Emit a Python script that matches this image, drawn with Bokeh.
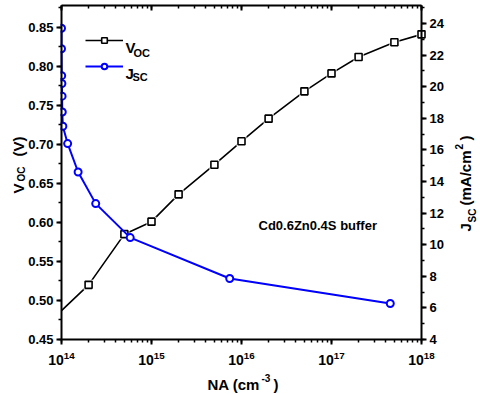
import math
from bokeh.plotting import figure
from bokeh.models import (Range1d, LinearAxis, LogAxis, LogTicker, SingleIntervalTicker,
                          NumeralTickFormatter, Label, Legend, LegendItem, ColumnDataSource,
                          BoxAnnotation)
from bokeh.embed import file_html
from bokeh.resources import INLINE

# ---- data ----
na_voc = [1e14, 2e14, 5e14, 1e15, 2e15, 5e15, 1e16, 2e16, 5e16, 1e17, 2e17, 5e17, 1e18]
voc = [0.487, 0.520, 0.585, 0.601, 0.636, 0.674, 0.704, 0.733, 0.768, 0.791, 0.812, 0.831, 0.841]

na_jsc = [1.0e14, 1.0e14, 1.005e14, 1.01e14, 1.015e14, 1.02e14, 1.035e14,
          1.17e14, 1.53e14, 2.4e14, 5.8e14, 7.4e15, 4.5e17]
jsc = [23.7, 22.4, 20.7, 20.2, 19.4, 18.4, 17.5, 16.4, 14.6, 12.6, 10.45, 7.86, 6.28]

left_range = (0.45, 0.878)
right_range = (4, 25.14)
x_range = (1e14, 1e18)

FONT = "Liberation Sans"
BLUE = "#0000FF"

# ---- layout: the axes box inside the canvas (pixels) ----
W, H = 480, 394
FL, FR, FT, FB = 61, 421, 5, 339

lx0, lx1 = math.log10(x_range[0]), math.log10(x_range[1])
dec = (FR - FL) / (lx1 - lx0)
x_full = (10 ** (lx0 - FL / dec), 10 ** (lx1 + (W - FR) / dec))


def extend(lo, hi):
    k = (FB - FT) / (hi - lo)
    return lo - (H - FB) / k, hi + FT / k


src_v = ColumnDataSource(dict(x=na_voc, y=voc))
src_vm = ColumnDataSource(dict(x=na_voc[1:], y=voc[1:]))
src_j = ColumnDataSource(dict(x=na_jsc, y=jsc))

p = figure(width=W, height=H, x_axis_type="log",
           x_range=Range1d(*x_full), y_range=Range1d(*extend(*left_range)),
           output_backend="svg", toolbar_location=None,
           min_border_left=0, min_border_right=0, min_border_top=0, min_border_bottom=0)
p.extra_y_ranges = {"j": Range1d(*extend(*right_range))}
p.grid.visible = False
p.outline_line_color = None
p.background_fill_color = "white"
p.border_fill_color = "white"


def style_axis(ax, tick_in=0, tick_out=5, minor_in=0, minor_out=3, labels=True):
    ax.axis_line_width = 2
    ax.axis_line_color = "black"
    ax.major_tick_line_width = 2
    ax.minor_tick_line_width = 1.5
    ax.major_tick_in = tick_in
    ax.major_tick_out = tick_out
    ax.minor_tick_in = minor_in
    ax.minor_tick_out = minor_out
    ax.major_label_text_font = FONT
    ax.major_label_text_font_style = "bold"
    ax.major_label_text_color = "black" if labels else None
    ax.major_label_text_font_size = "13px" if labels else "1px"
    ax.major_label_standoff = 3 if labels else 0


la = p.yaxis[0]
la.ticker = SingleIntervalTicker(interval=0.05, num_minor_ticks=2)
la.formatter = NumeralTickFormatter(format="0.00")
la.fixed_location = x_range[0]
la.bounds = left_range
style_axis(la)

ba = p.xaxis[0]
ba.ticker = LogTicker(desired_num_ticks=5, num_minor_ticks=10)
ba.fixed_location = left_range[0]
ba.bounds = x_range
style_axis(ba)
ba.major_label_text_font_size = "14px"
ba.major_label_standoff = 6

ra = LinearAxis(y_range_name="j", ticker=SingleIntervalTicker(interval=2, num_minor_ticks=2),
                fixed_location=x_range[1], bounds=right_range)
style_axis(ra)
p.add_layout(ra, "right")

ta = LogAxis(ticker=LogTicker(desired_num_ticks=5, num_minor_ticks=10),
             fixed_location=left_range[1], bounds=x_range)
style_axis(ta, tick_in=5, tick_out=0, minor_in=3, minor_out=0, labels=False)
p.add_layout(ta, "above")

# ---- series ----
v_line = p.line("x", "y", source=src_v, line_color="black", line_width=1.6)
v_halo = p.scatter("x", "y", source=src_vm, marker="square", size=10,
                   fill_color="white", line_color=None)
v_mark = p.scatter("x", "y", source=src_vm, marker="square", size=7,
                   fill_color="white", line_color="black", line_width=1.6)

j_line = p.line("x", "y", source=src_j, y_range_name="j", line_color=BLUE, line_width=2)
j_mark = p.scatter("x", "y", source=src_j, y_range_name="j", marker="circle", size=7,
                   fill_color="white", line_color=BLUE, line_width=2)

# white mask left of the plot box (emulates clipping at the left axis)
p.add_layout(BoxAnnotation(left=0, right=FL - 1, bottom=0, top=H,
                           left_units="screen", right_units="screen",
                           bottom_units="screen", top_units="screen",
                           fill_color="white", fill_alpha=1.0, line_color=None,
                           level="glyph"))

legend = Legend(items=[LegendItem(label=" ", renderers=[v_line, v_halo, v_mark]),
                       LegendItem(label=" ", renderers=[j_line, j_mark])],
                location=(85, H - 73), margin=0, padding=0, spacing=12,
                glyph_width=38, glyph_height=14, label_height=14, label_width=1,
                label_standoff=0, label_text_font_size="6px",
                border_line_alpha=0, background_fill_alpha=0)
p.add_layout(legend)


def lab(text, px, py, size, angle=0.0):
    """px, py: canvas pixels from top-left (baseline start of the text)."""
    p.add_layout(Label(x=px, y=H - py, x_units="screen", y_units="screen", text=text,
                       text_font=FONT, text_font_style="bold", text_font_size=size,
                       text_color="black", text_align="left", text_baseline="alphabetic",
                       angle=angle))


# legend texts
lab("V", 125, 47, "15px")
lab("OC", 133, 52, "11px")
lab("J", 125, 73, "15px")
lab("SC", 132, 76, "11px")

# annotation
lab("Cd0.6Zn0.4S buffer", 258, 225, "13px")

r = math.pi / 2
# left axis title
lab("V", 18, 193, "15px", r)
lab("OC", 21, 181, "10px", r)
lab("(V)", 18, 156, "15px", r)

# right axis title
lab("J", 465, 231, "15px", r)
lab("SC", 472, 222, "10px", r)
lab("(mA/cm", 465, 205, "15px", r)
lab("2", 458, 149, "10px", r)
lab(")", 465, 140, "15px", r)

# bottom axis title
lab("NA (cm", 207, 384, "15px")
lab("-3", 261, 377, "10px")
lab(")", 273, 384, "15px")

open("out.html", "w").write(file_html(p, INLINE))
